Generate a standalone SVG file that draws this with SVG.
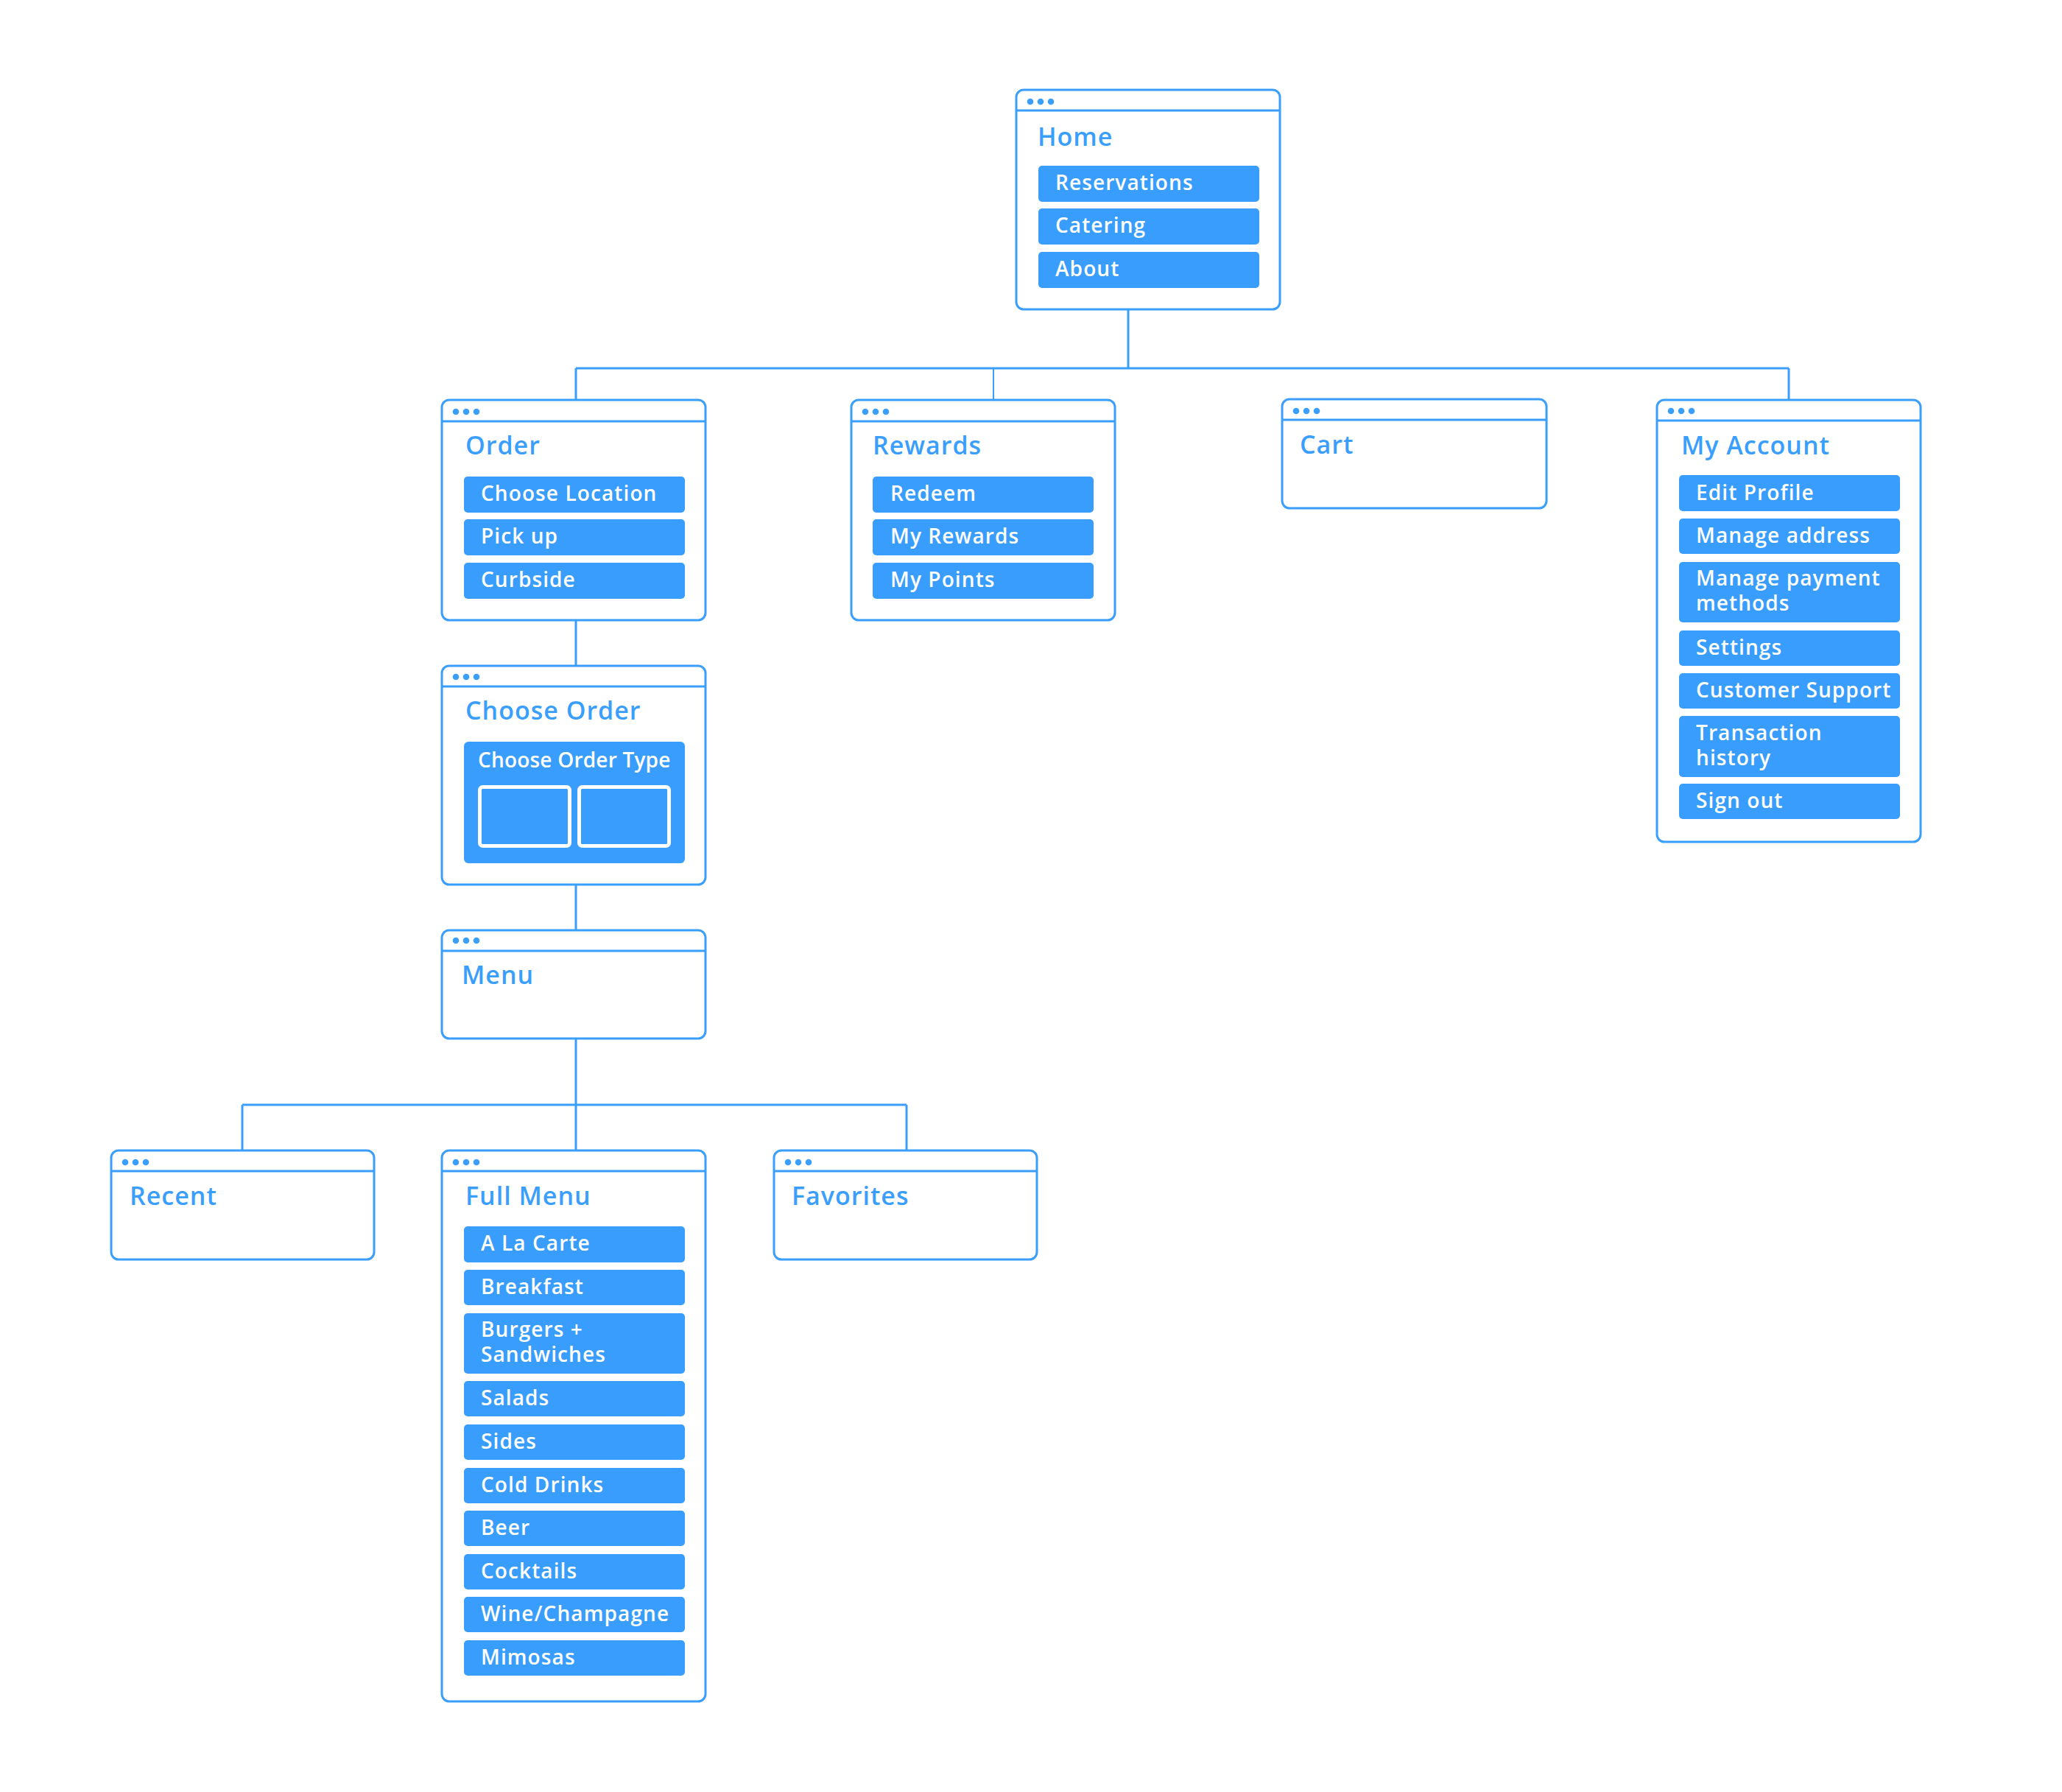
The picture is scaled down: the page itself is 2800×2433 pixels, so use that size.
<svg xmlns="http://www.w3.org/2000/svg" width="2800" height="2433" viewBox="0 0 2800 2433">
<defs>
<style>
.win{fill:#fff;stroke:#3a9efd;stroke-width:3}
.hdr{stroke:#3a9efd;stroke-width:3}
.dot{fill:#3a9efd}
.ttl{font-family:"Open Sans",sans-serif;font-weight:600;font-size:34px;fill:#3a9efd;letter-spacing:1px}
.btn{fill:#399dfd}
.bt{font-family:"Open Sans",sans-serif;font-weight:600;font-size:28px;fill:#fff;letter-spacing:1.1px}
.con{fill:none;stroke:#3a9efd;stroke-width:3}
.sq{fill:#399dfd;stroke:#fff;stroke-width:5}
</style>
</defs>
<rect width="2800" height="2433" fill="#fff"/>
<g id="connectors">
<path class="con" d="M1532 420V500M782 500H2429M782 500V543M2429 500V543"/>
<path class="con" style="stroke-width:2" d="M1349 500V543"/>
<path class="con" d="M782 842V904M782 1201V1263M782 1410V1562M329 1500H1231M329 1500V1562M1231 1500V1562"/>
</g>
<g id="home">
<rect class="win" x="1380" y="122" width="358" height="298" rx="10"/>
<line class="hdr" x1="1380" y1="150" x2="1738" y2="150"/>
<circle class="dot" cx="1399" cy="138" r="4.3"/><circle class="dot" cx="1413" cy="138" r="4.3"/><circle class="dot" cx="1427" cy="138" r="4.3"/>
<text class="ttl" x="1409" y="198">Home</text>
<rect class="btn" x="1410" y="225" width="300" height="49" rx="5"/><text class="bt" x="1433" y="258">Reservations</text>
<rect class="btn" x="1410" y="283" width="300" height="49" rx="5"/><text class="bt" x="1433" y="316">Catering</text>
<rect class="btn" x="1410" y="342" width="300" height="49" rx="5"/><text class="bt" x="1433" y="375">About</text>
</g>
<g id="order">
<rect class="win" x="600" y="543" width="358" height="299" rx="10"/>
<line class="hdr" x1="600" y1="572" x2="958" y2="572"/>
<circle class="dot" cx="619" cy="559" r="4.3"/><circle class="dot" cx="633" cy="559" r="4.3"/><circle class="dot" cx="647" cy="559" r="4.3"/>
<text class="ttl" x="632" y="617">Order</text>
<rect class="btn" x="630" y="647" width="300" height="49" rx="5"/><text class="bt" x="653" y="680">Choose Location</text>
<rect class="btn" x="630" y="705" width="300" height="49" rx="5"/><text class="bt" x="653" y="738">Pick up</text>
<rect class="btn" x="630" y="764" width="300" height="49" rx="5"/><text class="bt" x="653" y="797">Curbside</text>
</g>
<g id="rewards">
<rect class="win" x="1156" y="543" width="358" height="299" rx="10"/>
<line class="hdr" x1="1156" y1="572" x2="1514" y2="572"/>
<circle class="dot" cx="1175" cy="559" r="4.3"/><circle class="dot" cx="1189" cy="559" r="4.3"/><circle class="dot" cx="1203" cy="559" r="4.3"/>
<text class="ttl" x="1185" y="617">Rewards</text>
<rect class="btn" x="1185" y="647" width="300" height="49" rx="5"/><text class="bt" x="1209" y="680">Redeem</text>
<rect class="btn" x="1185" y="705" width="300" height="49" rx="5"/><text class="bt" x="1209" y="738">My Rewards</text>
<rect class="btn" x="1185" y="764" width="300" height="49" rx="5"/><text class="bt" x="1209" y="797">My Points</text>
</g>
<g id="cart">
<rect class="win" x="1741" y="542" width="359" height="148" rx="10"/>
<line class="hdr" x1="1741" y1="570" x2="2100" y2="570"/>
<circle class="dot" cx="1760" cy="558" r="4.3"/><circle class="dot" cx="1774" cy="558" r="4.3"/><circle class="dot" cx="1788" cy="558" r="4.3"/>
<text class="ttl" x="1765" y="616">Cart</text>
</g>
<g id="my-account">
<rect class="win" x="2250" y="543" width="358" height="600" rx="10"/>
<line class="hdr" x1="2250" y1="571" x2="2608" y2="571"/>
<circle class="dot" cx="2269" cy="558" r="4.3"/><circle class="dot" cx="2283" cy="558" r="4.3"/><circle class="dot" cx="2297" cy="558" r="4.3"/>
<text class="ttl" x="2283" y="617">My Account</text>
<rect class="btn" x="2280" y="645" width="300" height="49" rx="5"/><text class="bt" x="2303" y="679">Edit Profile</text>
<rect class="btn" x="2280" y="704" width="300" height="48" rx="5"/><text class="bt" x="2303" y="737">Manage address</text>
<rect class="btn" x="2280" y="763" width="300" height="82" rx="5"/><text class="bt" x="2303" y="795">Manage payment</text><text class="bt" x="2303" y="829">methods</text>
<rect class="btn" x="2280" y="856" width="300" height="48" rx="5"/><text class="bt" x="2303" y="889">Settings</text>
<rect class="btn" x="2280" y="914" width="300" height="48" rx="5"/><text class="bt" x="2303" y="947">Customer Support</text>
<rect class="btn" x="2280" y="972" width="300" height="83" rx="5"/><text class="bt" x="2303" y="1005">Transaction</text><text class="bt" x="2303" y="1039">history</text>
<rect class="btn" x="2280" y="1064" width="300" height="48" rx="5"/><text class="bt" x="2303" y="1097">Sign out</text>
</g>
<g id="choose-order">
<rect class="win" x="600" y="904" width="358" height="297" rx="10"/>
<line class="hdr" x1="600" y1="932" x2="958" y2="932"/>
<circle class="dot" cx="619" cy="919" r="4.3"/><circle class="dot" cx="633" cy="919" r="4.3"/><circle class="dot" cx="647" cy="919" r="4.3"/>
<text class="ttl" x="632" y="977">Choose Order</text>
<rect class="btn" x="630" y="1007" width="300" height="165" rx="6"/>
<text class="bt" x="649" y="1042" style="letter-spacing:0.2px">Choose Order Type</text>
<rect class="sq" x="651.5" y="1068.5" width="122" height="80" rx="4"/>
<rect class="sq" x="786.5" y="1068.5" width="122" height="80" rx="4"/>
</g>
<g id="menu">
<rect class="win" x="600" y="1263" width="358" height="147" rx="10"/>
<line class="hdr" x1="600" y1="1291" x2="958" y2="1291"/>
<circle class="dot" cx="619" cy="1277" r="4.3"/><circle class="dot" cx="633" cy="1277" r="4.3"/><circle class="dot" cx="647" cy="1277" r="4.3"/>
<text class="ttl" x="627" y="1336">Menu</text>
</g>
<g id="recent">
<rect class="win" x="151" y="1562" width="357" height="148" rx="10"/>
<line class="hdr" x1="151" y1="1590" x2="508" y2="1590"/>
<circle class="dot" cx="170" cy="1578" r="4.3"/><circle class="dot" cx="184" cy="1578" r="4.3"/><circle class="dot" cx="198" cy="1578" r="4.3"/>
<text class="ttl" x="176" y="1636">Recent</text>
</g>
<g id="full-menu">
<rect class="win" x="600" y="1562" width="358" height="748" rx="10"/>
<line class="hdr" x1="600" y1="1590" x2="958" y2="1590"/>
<circle class="dot" cx="619" cy="1578" r="4.3"/><circle class="dot" cx="633" cy="1578" r="4.3"/><circle class="dot" cx="647" cy="1578" r="4.3"/>
<text class="ttl" x="632" y="1636">Full Menu</text>
<rect class="btn" x="630" y="1665" width="300" height="49" rx="5"/><text class="bt" x="653" y="1698">A La Carte</text>
<rect class="btn" x="630" y="1724" width="300" height="48" rx="5"/><text class="bt" x="653" y="1757">Breakfast</text>
<rect class="btn" x="630" y="1783" width="300" height="82" rx="5"/><text class="bt" x="653" y="1815">Burgers +</text><text class="bt" x="653" y="1849">Sandwiches</text>
<rect class="btn" x="630" y="1875" width="300" height="48" rx="5"/><text class="bt" x="653" y="1908">Salads</text>
<rect class="btn" x="630" y="1934" width="300" height="48" rx="5"/><text class="bt" x="653" y="1967">Sides</text>
<rect class="btn" x="630" y="1993" width="300" height="48" rx="5"/><text class="bt" x="653" y="2026">Cold Drinks</text>
<rect class="btn" x="630" y="2051" width="300" height="48" rx="5"/><text class="bt" x="653" y="2084">Beer</text>
<rect class="btn" x="630" y="2110" width="300" height="48" rx="5"/><text class="bt" x="653" y="2143">Cocktails</text>
<rect class="btn" x="630" y="2168" width="300" height="48" rx="5"/><text class="bt" x="653" y="2201">Wine/Champagne</text>
<rect class="btn" x="630" y="2227" width="300" height="48" rx="5"/><text class="bt" x="653" y="2260">Mimosas</text>
</g>
<g id="favorites">
<rect class="win" x="1051" y="1562" width="357" height="148" rx="10"/>
<line class="hdr" x1="1051" y1="1590" x2="1408" y2="1590"/>
<circle class="dot" cx="1070" cy="1578" r="4.3"/><circle class="dot" cx="1084" cy="1578" r="4.3"/><circle class="dot" cx="1098" cy="1578" r="4.3"/>
<text class="ttl" x="1075" y="1636">Favorites</text>
</g>
</svg>
